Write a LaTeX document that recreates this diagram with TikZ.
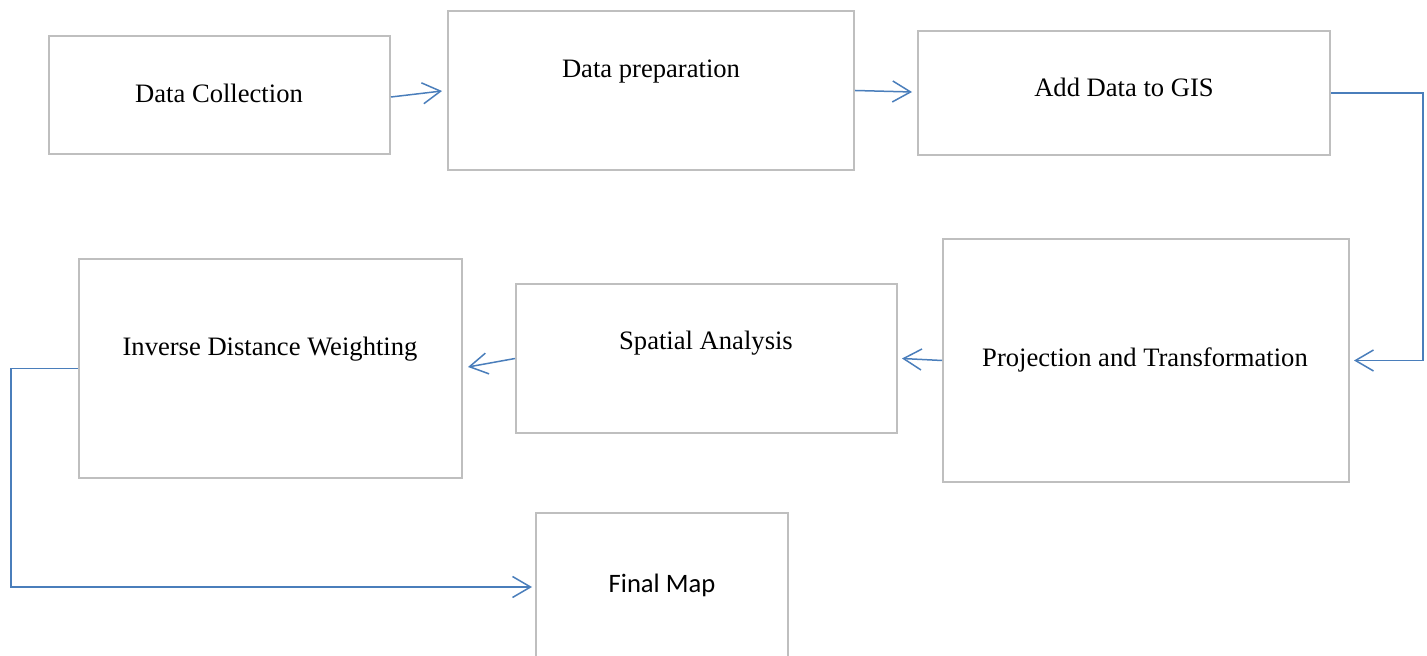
\documentclass[tikz,border=0pt]{standalone}
\usepackage{fontspec}
\setmainfont{Liberation Serif}
\newfontfamily\calibrifont{Carlito}
\usetikzlibrary{arrows.meta}
\definecolor{boxgray}{HTML}{BFBFBF}
\definecolor{flowblue}{HTML}{4A7EBB}
\tikzset{
  stepbox/.style={draw=boxgray,line width=1pt,rectangle,inner sep=0pt},
  steptext/.style={anchor=base,inner sep=0pt,font=\fontsize{13.3}{16}\selectfont},
  flow/.style={draw=flowblue,line width=0.75pt,-{Straight Barb[length=9pt,width=10.5pt]}}
}
\begin{document}
\begin{tikzpicture}[x=0.5pt,y=-0.5pt]
\useasboundingbox (0,0) rectangle (1427,656);
\node[stepbox,minimum width=170.5pt,minimum height=59pt] (DC) at (219.5,95) {};
\node[stepbox,minimum width=203pt,minimum height=79.5pt] (DP) at (651,90.5) {};
\node[stepbox,minimum width=206pt,minimum height=62pt] (GIS) at (1124,93) {};
\node[stepbox,minimum width=203pt,minimum height=121.5pt] (PT) at (1146,360.5) {};
\node[stepbox,minimum width=190.5pt,minimum height=74.5pt] (SA) at (706.5,358.5) {};
\node[stepbox,minimum width=191.5pt,minimum height=109.5pt] (IDW) at (270.5,368.5) {};
\node[stepbox,minimum width=126pt,minimum height=83.5pt] (FM) at (662,596.5) {};
\node[steptext] (DCt) at (219,103) {Data Collection};
\node[steptext] (DPt) at (651,78) {Data preparation};
\node[steptext] (GISt) at (1124,97) {Add Data to GIS};
\node[steptext] (PTt) at (1145,367) {Projection and Transformation};
\node[steptext] (SAt) at (706,350) {Spatial Analysis};
\node[steptext] (IDWt) at (270,356) {Inverse Distance Weighting};
\node[steptext,font=\calibrifont\fontsize{13.3}{16}\selectfont] (FMt) at (662,592) {Final Map};
\coordinate (FMin) at (532,587);
\draw[flow] ([yshift=-1pt]DC.east) -- ([xshift=-2.5pt,yshift=-0.25pt]DP.west);
\draw[flow] (DP.east) -- ([xshift=-2.5pt,yshift=0.5pt]GIS.west);
\draw[flow] (GIS.east) -- ++(46pt,0) |- ([xshift=2pt]PT.east);
\draw[flow] (PT.west) -- ([xshift=2pt]SA.east);
\draw[flow] (SA.west) -- ([xshift=2.5pt,yshift=0.75pt]IDW.east);
\draw[flow] (IDW.west) -- ++(-33.5pt,0) |- (FMin);
\end{tikzpicture}
\end{document}
